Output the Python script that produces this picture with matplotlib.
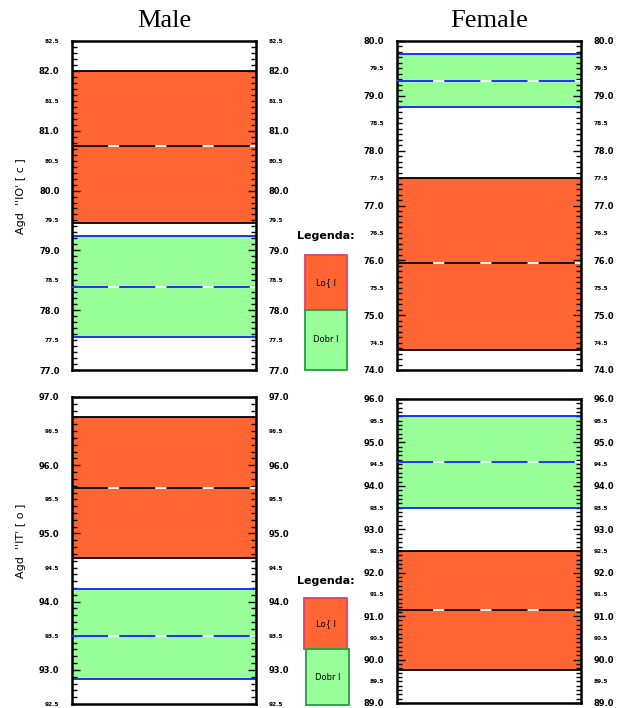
import matplotlib.pyplot as plt
import numpy as np

plt.rcParams['lines.scale_dashes'] = False

# values
sexes = ["Male", "Female"]
ylabels = ["Agd  ''IO' [ c ]", "Agd  ''IT' [ o ]"]
legend_names = ["Lo{ l", "Dobr l"]

# axis range per panel: (row, col)
y_limits = {(0, 0): (77.0, 82.5), (0, 1): (74.0, 80.0),
            (1, 0): (92.5, 97.0), (1, 1): (89.0, 96.0)}
# orange "bad" band (low, mid, high)
bad_band = {(0, 0): (79.45, 80.75, 82.0), (0, 1): (74.37, 75.95, 77.5),
            (1, 0): (94.64, 95.67, 96.71), (1, 1): (89.75, 91.13, 92.5)}
# green "good" band (low, mid, high)
good_band = {(0, 0): (77.55, 78.38, 79.24), (0, 1): (78.8, 79.27, 79.76),
             (1, 0): (92.86, 93.5, 94.18), (1, 1): (93.48, 94.55, 95.62)}

orange = "#ff6633"
green = "#99ff99"
blue = "#1020ff"

W, H = 627, 708
fig = plt.figure(figsize=(W / 100, H / 100), dpi=100)


def px_axes(x0, y0, x1, y1):
    return fig.add_axes([x0 / W, 1 - y1 / H, (x1 - x0) / W, (y1 - y0) / H])


def dash_line(ax, y, color):
    ax.axhline(y, color="white", lw=1.3, zorder=3)
    ax.axhline(y, color=color, lw=1.3, dashes=(26, 8), zorder=4)


boxes = {(0, 0): (72, 41, 256, 370), (0, 1): (397, 41, 581, 370),
         (1, 0): (72, 397, 256, 704), (1, 1): (397, 399, 581, 703)}

for key, (x0, y0, x1, y1) in boxes.items():
    row, col = key
    ax = px_axes(x0, y0, x1, y1)
    lo, hi = y_limits[key]
    ax.set_ylim(lo, hi)
    ax.set_xlim(0, 1)
    ax.set_xticks([])

    b = bad_band[key]
    g = good_band[key]
    ax.axhspan(b[0], b[2], color=orange, lw=0, zorder=1)
    ax.axhline(b[0], color="black", lw=1.3, zorder=2)
    ax.axhline(b[2], color="black", lw=1.3, zorder=2)
    dash_line(ax, b[1], "black")
    ax.axhspan(g[0], g[2], color=green, lw=0, zorder=1)
    ax.axhline(g[0], color=blue, lw=1.3, zorder=2)
    ax.axhline(g[2], color=blue, lw=1.3, zorder=2)
    dash_line(ax, g[1], blue)

    majors = np.arange(np.ceil(lo), np.floor(hi) + 0.01, 1.0)
    ax.set_yticks(majors, [f"{v:.1f}" for v in majors])
    minors = np.round(np.arange(lo, hi + 0.001, 0.1), 1)
    minors = [m for m in minors if abs(m - round(m)) > 0.01]
    mlabels = [f"{m:.1f}" if abs(m % 1 - 0.5) < 0.01 else "" for m in minors]
    ax.set_yticks(minors, mlabels, minor=True)
    ax.tick_params(axis="y", which="both", direction="in", left=True, right=True,
                   labelleft=True, labelright=True, width=1.0)
    ax.tick_params(axis="y", which="major", length=6, labelsize=6, pad=9)
    ax.tick_params(axis="y", which="minor", length=3.5, labelsize=4.2, pad=9)
    for lab in ax.get_yticklabels(which="both"):
        lab.set_fontweight("bold")
    for s in ax.spines.values():
        s.set_linewidth(1.8)
    ax.spines["right"].set_zorder(6)

    if row == 0:
        ax.set_title(sexes[col], family="Liberation Serif", fontsize=19, pad=10)
    if col == 0:
        ax.set_ylabel(ylabels[row], fontsize=8)
        ax.yaxis.set_label_coords(-0.25, 0.53)

# legend blocks between the columns
legend_boxes = [(236, (305, 255, 347, 310), (305, 310, 347, 370)),
                (581, (304, 598, 347, 649), (306, 649, 349, 705))]
for ty, ob, gb in legend_boxes:
    fig.text(326 / W, 1 - ty / H, "Legenda:", ha="center", va="center",
             fontsize=8, fontweight="bold")
    for (bx0, by0, bx1, by1), fc, ec, name in [(ob, orange, "#e0406e", legend_names[0]),
                                               (gb, green, "#20a040", legend_names[1])]:
        r = plt.Rectangle((bx0 / W, 1 - by1 / H), (bx1 - bx0) / W, (by1 - by0) / H,
                          transform=fig.transFigure, facecolor=fc, edgecolor=ec, lw=1.3)
        fig.patches.append(r)
        fig.text((bx0 + bx1) / 2 / W, 1 - (by0 + by1) / 2 / H, name, ha="center",
                 va="center", fontsize=6)

fig.savefig("out.png", dpi=100)
